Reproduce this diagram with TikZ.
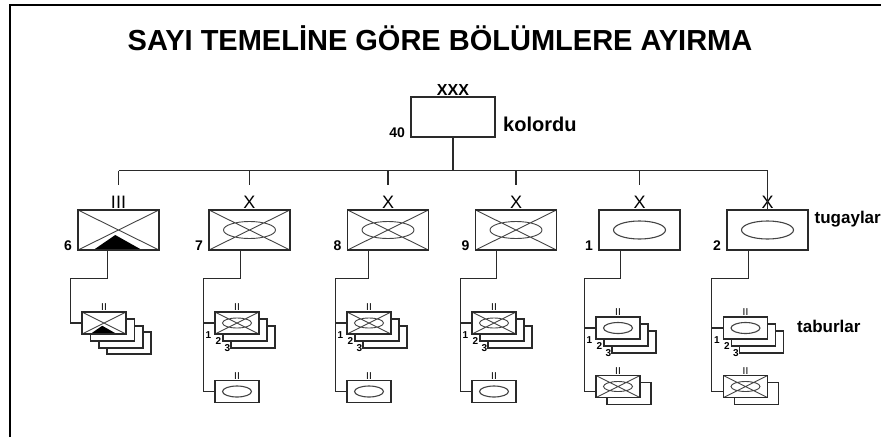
\documentclass[tikz,border=0pt]{standalone}
\usepackage{fontspec}
\setmainfont{Liberation Sans}
\usetikzlibrary{shadows, calc, positioning}
\definecolor{symline}{HTML}{2A2A2A}
\definecolor{crossline}{HTML}{444444}

\begin{document}
\begin{tikzpicture}[
        x=1pt, y=-1pt,
        bde/.style={rectangle, draw=symline, fill=white, line width=1.6pt, minimum width=81pt, minimum height=40pt, inner sep=0pt},
        bn/.style={rectangle, draw=symline, fill=white, line width=1.4pt, minimum width=44pt, minimum height=22pt, inner sep=0pt},
        oval/.style 2 args={path picture={\draw[crossline, line width=1.1pt] (path picture bounding box.center) ellipse [x radius=#1, y radius=#2];}},
        crossoval/.style 2 args={path picture={\draw[crossline, line width=.9pt] (path picture bounding box.north west) -- (path picture bounding box.south east) (path picture bounding box.south west) -- (path picture bounding box.north east) (path picture bounding box.center) ellipse [x radius=#1, y radius=#2];}},
        armor/.style={path picture={
            \draw[crossline, line width=.9pt] (path picture bounding box.north west) -- (path picture bounding box.south east) (path picture bounding box.south west) -- (path picture bounding box.north east);
            \fill[black] let \p1=(path picture bounding box.south west), \p2=(path picture bounding box.north east) in
                ({\x1+.19*(\x2-\x1)},\y1) -- ({\x1+.46*(\x2-\x1)},{\y1+.375*(\y2-\y1)}) -- ({\x1+.79*(\x2-\x1)},\y1) -- cycle;}},
        echelon/.style={label={[font=\fontsize{18}{18}\selectfont, inner sep=1pt]above:#1}},
        num/.style={label={[font=\fontsize{14}{14}\selectfont\bfseries, anchor=south east, inner sep=0pt, xshift=-5pt]south west:#1}},
        bnech/.style={label={[font=\fontsize{10}{10}\selectfont, inner sep=.5pt]above:II}},
        bnnum/.style={label={[tiny, xshift=-6pt]south west:1}, label={[tiny, xshift=4pt, yshift=-6pt]south west:2}, label={[tiny, xshift=13pt, yshift=-13pt]south west:3}},
        tiny/.style={font=\fontsize{10}{10}\selectfont\bfseries, anchor=center, inner sep=0pt},
        stack2/.style={double copy shadow={shadow xshift=8pt, shadow yshift=-7pt}},
        stack3/.style={copy shadow={shadow xshift=25pt, shadow yshift=-20pt}, double copy shadow={shadow xshift=8.5pt, shadow yshift=-7pt}},
        stack1/.style={copy shadow={shadow xshift=11pt, shadow yshift=-7pt}},
        tag/.style={font=\fontsize{17}{17}\selectfont\bfseries, inner sep=0pt},
        link/.style={symline, line width=1.3pt}
    ]
    \useasboundingbox (0,0) rectangle (881,437);
    \draw[line width=2pt] (10,437) -- (10,5) -- (881,5);

    \node[font=\fontsize{29}{29}\selectfont\bfseries] (title) at (440,38) {SAYI TEMELİNE GÖRE BÖLÜMLERE AYIRMA};

    % kolordu
    \node[bde, minimum width=84pt, label={[font=\fontsize{16}{16}\selectfont\bfseries, inner sep=1pt]above:XXX}, num=40] (corps) at (453,117) {};
    \node[font=\fontsize{20}{20}\selectfont\bfseries, anchor=west, inner sep=0pt] (kolordu) at (503,124) {kolordu};

    % tugaylar
    \node[bde, armor, echelon=III, num=6] (bde1) at (118.5,230) {};
    \node[bde, crossoval={26pt}{8.5pt}, echelon=X, num=7] (bde2) at (249.5,230) {};
    \node[bde, crossoval={26pt}{8.5pt}, echelon=X, num=8] (bde3) at (388,230) {};
    \node[bde, crossoval={26pt}{8.5pt}, echelon=X, num=9] (bde4) at (516,230) {};
    \node[bde, oval={26pt}{9pt}, echelon=X, num=1] (bde5) at (639.5,230) {};
    \node[bde, oval={26pt}{9pt}, echelon=X, num=2] (bde6) at (767.5,230) {};
    \node[tag, anchor=east] (tugaylar) at (881,219) {tugaylar};

    % taburlar
    \node[bn, armor, stack3, bnech] (bn1) at (104,323) {};
    \node[bn, crossoval={14.5pt}{5pt}, stack2, bnech, bnnum] (bn2) at (237,323) {};
    \node[bn, crossoval={14.5pt}{5pt}, stack2, bnech, bnnum] (bn3) at (369,323) {};
    \node[bn, crossoval={14.5pt}{5pt}, stack2, bnech, bnnum] (bn4) at (494,323) {};
    \node[bn, oval={14.5pt}{5.5pt}, stack2, bnech, bnnum] (bn5) at (618,328) {};
    \node[bn, oval={14.5pt}{5.5pt}, stack2, bnech, bnnum] (bn6) at (745.5,328) {};
    \node[bn, oval={14.5pt}{5.5pt}, bnech] (tb2) at (237,391.5) {};
    \node[bn, oval={14.5pt}{5.5pt}, bnech] (tb3) at (369,391.5) {};
    \node[bn, oval={14.5pt}{5.5pt}, bnech] (tb4) at (494,391.5) {};
    \node[bn, crossoval={14.5pt}{5pt}, stack1, bnech] (tb5) at (618,386.5) {};
    \node[bn, crossoval={14.5pt}{5pt}, stack1, bnech] (tb6) at (745.5,386.5) {};
    \node[tag, anchor=west] (taburlar) at (797,326) {taburlar};

    % kolordu -> tugaylar
    \draw[link] (corps.south) -- ++(0,33) coordinate (hub);
    \draw[link] (hub -| bde1.north) -- (hub -| bde6.north);
    \draw[link] (hub -| bde1.north) -- ([yshift=24pt]bde1.north);
    \draw[link] (hub -| bde2.north) -- ([yshift=24pt]bde2.north);
    \draw[link] (hub -| bde3.north) -- ([yshift=24pt]bde3.north);
    \draw[link] (hub -| bde4.north) -- ([yshift=24pt]bde4.north);
    \draw[link] (hub -| bde5.north) -- ([yshift=24pt]bde5.north);
    \draw[link] (hub -| bde6.north) -- (bde6.north);

    % tugaylar -> taburlar
    \draw[link] ([xshift=30pt]bde1.south west) -- ++(0,28) -| ([xshift=-11pt]bn1.west) -- (bn1.west);
    \draw[link] ([xshift=32pt]bde2.south west) -- ++(0,28) -| ([xshift=-11pt]tb2.west) -- (tb2.west);
    \draw[link] ([xshift=22pt]bde3.south west) -- ++(0,28) -| ([xshift=-11pt]tb3.west) -- (tb3.west);
    \draw[link] ([xshift=22pt]bde4.south west) -- ++(0,28) -| ([xshift=-11pt]tb4.west) -- (tb4.west);
    \draw[link] ([xshift=22pt]bde5.south west) -- ++(0,28) -| ([xshift=-11pt,yshift=-5pt]tb5.west) -- ([yshift=-5pt]tb5.west);
    \draw[link] ([xshift=22pt]bde6.south west) -- ++(0,28) -| ([xshift=-11pt,yshift=-5pt]tb6.west) -- ([yshift=-5pt]tb6.west);
    \draw[link] ([xshift=-11pt]bn2.west) -- (bn2.west);
    \draw[link] ([xshift=-11pt]bn3.west) -- (bn3.west);
    \draw[link] ([xshift=-11pt]bn4.west) -- (bn4.west);
    \draw[link] ([xshift=-11pt]bn5.west) -- (bn5.west);
    \draw[link] ([xshift=-11pt]bn6.west) -- (bn6.west);
\end{tikzpicture}
\end{document}
